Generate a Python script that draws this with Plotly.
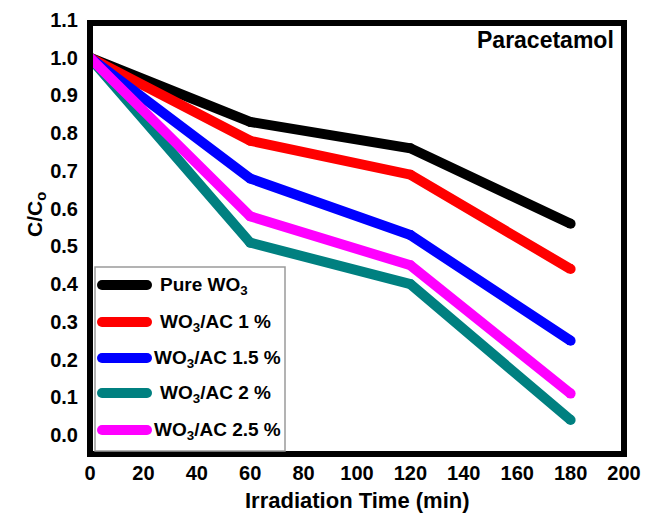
import plotly.graph_objects as go

time = [0, 60, 120, 180]
pure_wo3 = [1.0, 0.83, 0.76, 0.56]
wo3_ac_1 = [1.0, 0.78, 0.69, 0.44]
wo3_ac_15 = [1.0, 0.68, 0.53, 0.25]
wo3_ac_2 = [1.0, 0.51, 0.40, 0.04]
wo3_ac_25 = [1.0, 0.58, 0.45, 0.11]

names = ["Pure WO<sub>3</sub>", "WO<sub>3</sub>/AC 1 %", "WO<sub>3</sub>/AC 1.5 %",
         "WO<sub>3</sub>/AC 2 %", "WO<sub>3</sub>/AC 2.5 %"]
series = [pure_wo3, wo3_ac_1, wo3_ac_15, wo3_ac_2, wo3_ac_25]
colors = ["#000000", "#ff0000", "#0000ff", "#008080", "#ff00ff"]

x_ticks = list(range(0, 201, 20))
y_ticks = [round(i * 0.1, 1) for i in range(12)]

FONT = "Liberation Sans, Arial, sans-serif"

# layout geometry (pixels)
W, H = 646, 513
PL, PR, PT, PB = 90, 624, 20, 454
pw, ph = PR - PL, PB - PT


def px(xp):
    return (xp - PL) / pw


def py(yp):
    return (PB - yp) / ph


fig = go.Figure()
for n, s, c in zip(names, series, colors):
    fig.add_trace(go.Scatter(
        x=time, y=s, name=n, mode="lines+markers",
        line=dict(color=c, width=10),
        marker=dict(color=c, size=10, line=dict(width=0)),
        showlegend=False,
    ))

shapes = []
annotations = []

# frame
shapes.append(dict(type="rect", xref="paper", yref="paper",
                   x0=0, x1=1, y0=0, y1=py(23),
                   line=dict(color="black", width=6), fillcolor="rgba(0,0,0,0)", layer="above"))

# manual legend box
shapes.append(dict(type="rect", xref="paper", yref="paper",
                   x0=px(95), x1=px(285), y0=py(451), y1=py(267),
                   line=dict(color="#9a9a9a", width=1.5), fillcolor="white", layer="above"))

legend_y = [285, 322, 358, 393, 430]
legend_tx = [158, 158, 152, 158, 152]
for n, c, ly, tx in zip(names, colors, legend_y, legend_tx):
    shapes.append(dict(type="line", xref="paper", yref="paper",
                       x0=px(102), x1=px(147), y0=py(ly), y1=py(ly),
                       line=dict(color=c, width=10), layer="above"))
    for ex in (102, 147):
        shapes.append(dict(type="circle", xref="paper", yref="paper",
                           xsizemode="pixel", ysizemode="pixel",
                           xanchor=px(ex), yanchor=py(ly),
                           x0=-5, x1=5, y0=-5, y1=5,
                           fillcolor=c, line=dict(width=0), layer="above"))
    annotations.append(dict(x=px(tx), y=py(ly), xref="paper", yref="paper",
                            xanchor="left", yanchor="middle", yshift=-1,
                            text=n, showarrow=False,
                            font=dict(size=19, family=FONT, color="black", weight="bold")))

annotations.append(dict(
    x=px(616), y=py(40), xref="paper", yref="paper", xanchor="right", yanchor="middle",
    text="Paracetamol", showarrow=False,
    font=dict(size=23, family=FONT, color="black", weight="bold"),
))
annotations.append(dict(
    x=px(36), y=py(215), xref="paper", yref="paper", xanchor="center", yanchor="middle",
    text="C/C<sub>o</sub>", showarrow=False, textangle=-90,
    font=dict(size=21, family=FONT, color="black", weight="bold"),
))
annotations.append(dict(
    x=px(357), y=py(500), xref="paper", yref="paper", xanchor="center", yanchor="middle",
    text="Irradiation Time (min)", showarrow=False,
    font=dict(size=22, family=FONT, color="black", weight="bold"),
))

fig.update_layout(
    width=W, height=H,
    margin=dict(l=PL, r=W - PR, t=PT, b=H - PB, pad=0, autoexpand=False),
    paper_bgcolor="white", plot_bgcolor="white",
    font=dict(family=FONT, color="black", size=19, weight="bold"),
    showlegend=False,
    xaxis=dict(
        range=[0, 200], tickvals=x_ticks, ticks="", showgrid=False, zeroline=False,
        showline=False, ticklabelstandoff=5, automargin=False,
        tickfont=dict(size=20, family=FONT, weight="bold"),
    ),
    yaxis=dict(
        range=[-0.05, 1.1], tickvals=y_ticks, tickformat=".1f", ticks="", showgrid=False, zeroline=False,
        showline=False, ticklabelstandoff=11, automargin=False,
        tickfont=dict(size=20, family=FONT, weight="bold"),
    ),
    shapes=shapes,
    annotations=annotations,
)

fig.write_html("out.html")
